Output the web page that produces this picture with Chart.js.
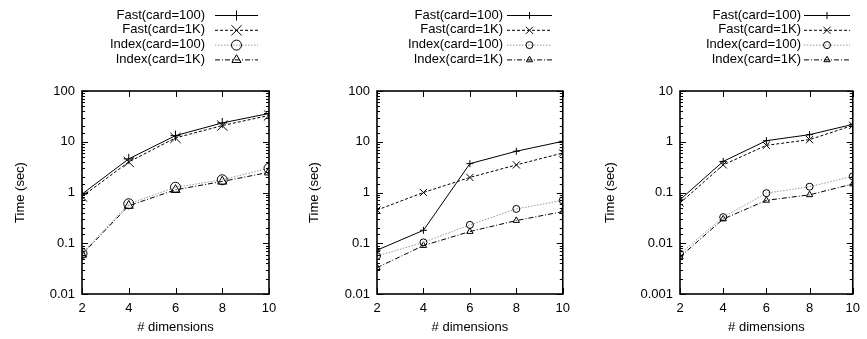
<!DOCTYPE html>
<html>
<head>
<meta charset="utf-8">
<script src="https://cdn.jsdelivr.net/npm/chart.js@4/dist/chart.umd.min.js"></script>
<style>
  html, body { margin: 0; padding: 0; background: #fff; }
  #wrap { position: relative; width: 867px; height: 339px; overflow: hidden; }
  canvas { position: absolute; top: 0; }
</style>
</head>
<body>
<div id="wrap">
  <canvas id="c1" width="290" height="339" style="left:0px"></canvas>
  <canvas id="c2" width="287" height="339" style="left:290px"></canvas>
  <canvas id="c3" width="290" height="339" style="left:577px"></canvas>
</div>
<script>
// ---- data ----
const dims = [2, 4, 6, 8, 10];
const seriesNames = ['Fast(card=100)', 'Fast(card=1K)', 'Index(card=100)', 'Index(card=1K)'];
const xTickLabels = ['2', '4', '6', '8', '10'];

// left panel
const fast100A = [0.93, 4.6, 13.2, 23.5, 36];
const fast1kA = [0.83, 4.0, 11.9, 20.8, 33];
const index100A = [0.063, 0.6, 1.27, 1.78, 3.0];
const index1kA = [0.06, 0.55, 1.13, 1.65, 2.5];
const yTicksA = [0.01, 0.1, 1, 10, 100];
const yLabelsA = ['0.01', '0.1', '1', '10', '100'];

// middle panel
const fast100B = [0.073, 0.18, 3.7, 6.5, 10.2];
const fast1kB = [0.45, 1.0, 1.98, 3.5, 6.0];
const index100B = [0.056, 0.104, 0.23, 0.475, 0.7];
const index1kB = [0.033, 0.09, 0.17, 0.28, 0.42];
const yTicksB = [0.01, 0.1, 1, 10, 100];
const yLabelsB = ['0.01', '0.1', '1', '10', '100'];

// right panel
const fast100C = [0.072, 0.41, 1.05, 1.38, 2.2];
const fast1kC = [0.062, 0.35, 0.85, 1.1, 2.1];
const index100C = [0.0062, 0.0327, 0.097, 0.13, 0.208];
const index1kC = [0.0054, 0.03, 0.07, 0.09, 0.147];
const yTicksC = [0.001, 0.01, 0.1, 1, 10];
const yLabelsC = ['0.001', '0.01', '0.1', '1', '10'];

const FONT = 'Liberation Sans, Arial, Helvetica, sans-serif';
const FS = 13;

const styles = [
  { borderColor: '#000', borderDash: [], pointStyle: 'cross', rs: 1.0 },
  { borderColor: '#000', borderDash: [3, 2], pointStyle: 'crossRot', rs: 1.45 },
  { borderColor: '#999', borderDash: [1.5, 1.5], pointStyle: 'circle', rs: 1.0 },
  { borderColor: '#000', borderDash: [5, 2, 1, 2], pointStyle: 'triangle', rs: 1.05 }
];

function pts(vals) { return dims.map((d, i) => ({ x: d, y: vals[i] })); }

// Frame + inward ticks (mirrored on all sides)
const framePlugin = {
  id: 'frame',
  afterDatasetsDraw(chart) {
    const { ctx, chartArea: a, scales } = chart;
    ctx.save();
    ctx.strokeStyle = '#000';
    ctx.lineWidth = 1;
    ctx.setLineDash([]);
    const xs = scales.x, ys = scales.y;
    ctx.beginPath();
    xs.ticks.forEach(t => {
      const px = Math.round(xs.getPixelForValue(t.value)) + 0.5;
      ctx.moveTo(px, a.bottom); ctx.lineTo(px, a.bottom - 6);
      ctx.moveTo(px, a.top); ctx.lineTo(px, a.top + 6);
    });
    ys.ticks.forEach(t => {
      const v = t.value;
      const lg = Math.log10(v);
      const major = Math.abs(lg - Math.round(lg)) < 1e-6;
      const len = major ? 6 : 3;
      const py = Math.round(ys.getPixelForValue(v)) + 0.5;
      ctx.moveTo(a.left, py); ctx.lineTo(a.left + len, py);
      ctx.moveTo(a.right, py); ctx.lineTo(a.right - len, py);
    });
    ctx.stroke();
    ctx.lineWidth = 1.6;
    ctx.strokeRect(a.left, a.top, a.right - a.left, a.bottom - a.top);
    ctx.restore();
  }
};

// gnuplot-style key: right-aligned text, then a line sample with marker
const keyPlugin = {
  id: 'gkey',
  afterDraw(chart, args, opts) {
    const { ctx } = chart;
    ctx.save();
    ctx.font = FS + 'px ' + FONT;
    ctx.textAlign = 'right';
    ctx.textBaseline = 'middle';
    chart.data.datasets.forEach((ds, i) => {
      const y = opts.top + i * opts.step;
      ctx.fillStyle = '#000';
      ctx.fillText(ds.label, opts.textRight, y);
      ctx.beginPath();
      ctx.strokeStyle = ds.borderColor;
      ctx.lineWidth = ds.borderWidth;
      ctx.setLineDash(ds.borderDash || []);
      ctx.moveTo(opts.x0, y + 0.5); ctx.lineTo(opts.x1, y + 0.5);
      ctx.stroke();
      ctx.setLineDash([]);
      ctx.strokeStyle = ds.pointBorderColor;
      ctx.fillStyle = 'rgba(0,0,0,0)';
      ctx.lineWidth = ds.pointBorderWidth;
      Chart.helpers.drawPoint(ctx, { pointStyle: ds.pointStyle, radius: ds.pointRadius, rotation: 0, borderWidth: ds.pointBorderWidth }, (opts.x0 + opts.x1) / 2, y + 0.5);
    });
    ctx.restore();
  }
};

function makeChart(id, vals, yMin, yMax, yTickVals, yTickLabels, lay) {
  const datasets = vals.map((v, i) => ({
    label: seriesNames[i],
    data: pts(v),
    borderColor: styles[i].borderColor,
    borderDash: styles[i].borderDash,
    borderWidth: 1,
    pointStyle: styles[i].pointStyle,
    pointRadius: lay.pr * styles[i].rs,
    pointBorderColor: '#000',
    pointBackgroundColor: 'rgba(0,0,0,0)',
    pointBorderWidth: 1,
    fill: false,
    tension: 0
  }));
  return new Chart(document.getElementById(id), {
    type: 'line',
    data: { datasets },
    plugins: [framePlugin, keyPlugin],
    options: {
      responsive: false,
      animation: false,
      devicePixelRatio: 1,
      layout: { padding: { left: 0, right: lay.padRight, top: 91, bottom: 0 } },
      plugins: {
        legend: { display: false },
        tooltip: { enabled: false },
        gkey: { top: 15, step: 14.8, textRight: lay.textRight, x0: lay.x0, x1: lay.x1 }
      },
      scales: {
        x: {
          type: 'linear', min: 2, max: 10,
          grid: { display: false, drawTicks: false },
          border: { display: false },
          afterBuildTicks(s) { s.ticks = dims.map(v => ({ value: v })); },
          afterFit(s) { s.height = 45; },
          ticks: {
            color: '#000', font: { family: FONT, size: FS }, padding: 7,
            maxRotation: 0, autoSkip: false,
            callback: (v) => { const k = dims.indexOf(v); return k >= 0 ? xTickLabels[k] : ''; }
          },
          title: { display: true, text: '# dimensions', color: '#000', font: { family: FONT, size: FS }, padding: { top: 0, bottom: 4 } }
        },
        y: {
          type: 'logarithmic', min: yMin, max: yMax,
          grid: { display: false, drawTicks: false },
          border: { display: false },
          afterFit(s) { s.width = lay.yw; },
          ticks: {
            color: '#000', font: { family: FONT, size: FS }, padding: 7, autoSkip: false,
            callback: (v) => {
              for (let k = 0; k < yTickVals.length; k++) {
                if (Math.abs(v - yTickVals[k]) < yTickVals[k] * 1e-6) return yTickLabels[k];
              }
              return '';
            }
          },
          title: { display: true, text: 'Time (sec)', color: '#000', font: { family: FONT, size: FS }, padding: { top: lay.titlePad, bottom: 0 } }
        }
      }
    }
  });
}

makeChart('c1', [fast100A, fast1kA, index100A, index1kA], 0.01, 100, yTicksA, yLabelsA,
  { yw: 82, padRight: 21, titlePad: 13, textRight: 205, x0: 215, x1: 258, pr: 5 });
makeChart('c2', [fast100B, fast1kB, index100B, index1kB], 0.01, 100, yTicksB, yLabelsB,
  { yw: 87, padRight: 13, titlePad: 17, textRight: 213, x0: 217, x1: 262, pr: 3.5 });
makeChart('c3', [fast100C, fast1kC, index100C, index1kC], 0.001, 10, yTicksC, yLabelsC,
  { yw: 103, padRight: 10, titlePad: 26, textRight: 224, x0: 227, x1: 273, pr: 3.5 });
</script>
</body>
</html>
